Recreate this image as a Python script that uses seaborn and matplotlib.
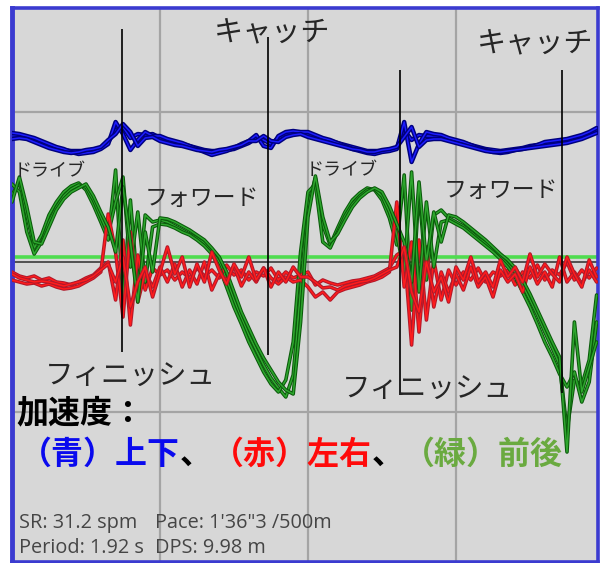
import matplotlib
matplotlib.use("Agg")
import numpy as np
import pandas as pd
import matplotlib.pyplot as plt
import matplotlib.patheffects as pe
import seaborn as sns

# Overlaid rowing strokes, accelerometer counts (150 counts per grid division),
# one sample every 0.048 s; two stroke cycles of 40 samples each.
vertical_a = [126, 127, 125, 122, 119, 116, 114, 112, 111, 111,
              111, 112, 114, 120, 132, 135, 124, 128, 127, 128,
              124, 122, 120, 118, 116, 114, 112, 111, 111, 112,
              113, 116, 119, 124, 122, 118, 124, 128, 129, 129,
              127, 125, 123, 121, 119, 117, 115, 113, 111, 111,
              111, 112, 114, 132, 122, 127, 126, 126, 125, 123,
              121, 119, 117, 115, 113, 112, 111, 112, 113, 114,
              116, 117, 118, 119, 120, 121, 123, 125, 128, 131]
vertical_b = [129, 128, 126, 124, 121, 118, 115, 113, 110, 108,
              109, 110, 113, 118, 140, 128, 112, 122, 130, 126,
              126, 123, 121, 119, 116, 113, 110, 107, 109, 111,
              114, 118, 121, 127, 116, 114, 126, 130, 131, 130,
              130, 127, 124, 122, 119, 116, 113, 111, 109, 108,
              110, 111, 113, 140, 100, 118, 130, 128, 127, 124,
              122, 120, 117, 114, 112, 110, 109, 110, 112, 113,
              115, 117, 120, 121, 122, 123, 125, 127, 130, 134]
vertical_c = [123, 124, 123, 120, 117, 114, 112, 110, 109, 110,
              112, 113, 115, 122, 128, 138, 130, 116, 124, 125,
              121, 119, 117, 116, 114, 112, 111, 110, 112, 113,
              115, 117, 121, 121, 126, 121, 120, 125, 127, 128,
              125, 123, 121, 119, 117, 115, 113, 112, 110, 110,
              112, 113, 115, 125, 135, 115, 122, 123, 123, 121,
              119, 117, 115, 113, 111, 110, 110, 111, 112, 113,
              114, 115, 116, 117, 118, 119, 121, 123, 126, 129]

surge_a = [67, 80, 47, 14, 27, 47, 60, 70, 76, 79,
           72, 57, 40, 22, 92, -38, 62, -28, 47, 40,
           42, 40, 36, 32, 28, 24, 19, 10, 0, -18,
           -38, -56, -73, -88, -103, -116, -126, -135, -113, -28,
           57, 84, 37, 17, 34, 50, 62, 69, 74, 72,
           62, 44, 17, 87, -48, 72, -18, 47, 52, 44,
           40, 36, 30, 24, 19, 12, 6, -2, -10, -23,
           -38, -53, -70, -86, -103, -168, -118, -123, -98, -33]
surge_b = [78, 70, 30, 8, 20, 40, 55, 66, 73, 77,
           75, 62, 45, 28, 60, 85, -5, 50, -20, 35,
           38, 37, 34, 30, 27, 22, 16, 8, -5, -25,
           -45, -62, -80, -95, -110, -122, -130, -118, -80, 10,
           70, 78, 20, 14, 30, 46, 58, 66, 72, 73,
           66, 50, 28, -10, 90, -30, 60, -5, 40, 42,
           38, 34, 28, 22, 16, 10, 3, -5, -15, -30,
           -45, -62, -80, -95, -112, -125, -110, -140, -120, -60]
surge_c = [60, 85, 55, 20, 18, 35, 52, 63, 70, 74,
           78, 66, 50, 35, 10, 75, 20, -40, 30, -10,
           44, 43, 40, 36, 32, 27, 22, 14, 5, -10,
           -30, -50, -66, -82, -96, -108, -120, -128, -132, -60,
           45, 86, 45, 20, 28, 42, 55, 64, 70, 74,
           70, 56, 38, 20, -20, 80, 0, 50, 20, 47,
           45, 40, 34, 28, 22, 15, 8, 2, -6, -18,
           -32, -48, -64, -80, -95, -190, -60, -130, -105, -80]

sway_a = [-10, -14, -16, -14, -18, -16, -20, -21, -23, -20,
          -16, -13, -6, 0, -38, 22, -63, 7, -28, -6,
          -13, -8, -18, -10, -16, -6, -14, -8, -16, -3,
          -13, -8, -18, -10, -14, -6, -18, -10, -16, -13,
          -10, -23, -18, -21, -23, -21, -19, -18, -16, -14,
          -10, -6, 7, 12, -83, 22, -58, 2, -38, -8,
          -23, -10, -18, -6, -20, -10, -14, -8, -23, -10,
          -16, -3, -18, -8, -13, 0, -18, -8, -16, -6]
sway_b = [-18, -20, -22, -21, -24, -22, -25, -27, -26, -24,
          -20, -16, -10, 48, 10, -55, 30, -40, -10, -25,
          -5, -20, -2, -25, -8, -22, 0, -28, -12, -18,
          -4, -24, -10, -20, -6, -16, -22, -15, -20, -18,
          -25, -35, -30, -38, -30, -27, -25, -23, -20, -18,
          -15, -10, 60, -25, 20, -70, 15, -45, -10, -30,
          -12, -28, -5, -25, -15, -35, -8, -20, -12, -30,
          -5, -22, -10, -25, 5, -20, -10, -22, -8, -20]
sway_c = [-12, -16, -18, -20, -19, -20, -22, -24, -22, -20,
          -18, -14, -8, -2, -20, 5, -45, -20, -5, -35,
          -10, 15, -12, 5, -25, -2, -20, 10, -8, -22,
          -2, -15, 5, -18, -6, -25, -10, -20, -5, -15,
          -15, -20, -26, -25, -28, -24, -22, -20, -19, -16,
          -12, -8, -5, 15, -30, -50, 0, -30, -15, -40,
          -5, -18, 5, -20, -10, -25, 2, -15, -5, -20,
          8, -15, -2, -12, -20, 5, -12, -25, 2, -15]

# Stroke events: (sample position, lower end, upper end of the marker)
finish_marks = [(14.9, -90, 233), (52.4, -133, 192)]
catch_marks = [(34.6, -93, 225), (74.3, -131, 192)]

stats_left = ["SR: 31.2 spm", "Period: 1.92 s"]
stats_right = ["Pace: 1'36\"3 /500m", "DPS: 9.98 m"]

W, H = 600, 563
sns.set_style("white")
plt.rcParams["font.family"] = ["Noto Sans CJK JP", "DejaVu Sans"]

fig = plt.figure(figsize=(W / 100, H / 100), dpi=100)
fig.patch.set_facecolor("white")
ax = fig.add_axes([12 / W, 1 - 562 / H, 586 / W, 554 / H])
ax.set_facecolor("#d7d7d7")
ax.set_xlim(0, 79.19)
ax.set_ylim(-300, 254)

# grid divisions
ax.set_xticks([20, 40, 60])
ax.set_yticks([150, -150])
ax.grid(True, color="#a4a4a4", linewidth=1.6)
ax.tick_params(length=0, labelbottom=False, labelleft=False)
for sp in ax.spines.values():
    sp.set_color("#3b3bd0")
    sp.set_linewidth(2.6)
ax.spines["left"].set_linewidth(3.5)

# reference lines
ax.axhline(5, color="#4fdc4f", linewidth=2.6, zorder=2)
ax.axhline(0, color="#3a3a3a", linewidth=1.2, zorder=2)

series = {
    "surge": ([surge_a, surge_b, surge_c], "#2ea62e", "#0a5a0a", 2.6),
    "sway": ([sway_a, sway_b, sway_c], "#ff1c1c", "#b0182a", 2.6),
    "vertical": ([vertical_a, vertical_b, vertical_c], "#1d1dff", "#00007e", 3.2),
}
rows = []
for name, (traces, _, _, _) in series.items():
    for k, tr in enumerate(traces):
        for i, v in enumerate(tr):
            rows.append({"axis": name, "stroke": k, "sample": i, "acc": v})
df = pd.DataFrame(rows)

for k in range(3):
    for name in ["surge", "sway", "vertical"]:
        _, inner, outer, w = series[name]
        sub = df[(df["axis"] == name) & (df["stroke"] == k)]
        sns.lineplot(data=sub, x="sample", y="acc", ax=ax, color=inner,
                     linewidth=1.1, estimator=None, sort=False, zorder=3,
                     path_effects=[pe.Stroke(linewidth=w, foreground=outer),
                                   pe.Normal()])

for x, lo, hi in finish_marks + catch_marks:
    ax.vlines(x, lo, hi, color="black", linewidth=1.2, zorder=5)

ax.set_xlabel("")
ax.set_ylabel("")


def fpos(x, y):
    return x / W, 1 - y / H


def label(x, y, s, size, **kw):
    fig.text(*fpos(x, y), s, fontsize=size, ha="left", va="center",
             zorder=6, **kw)


label(214, 32, "キャッチ", 21)
label(477, 43, "キャッチ", 21)
label(14, 171, "ドライブ", 13)
label(306, 170, "ドライブ", 13)
label(145, 198, "フォワード", 16.5)
label(444, 190, "フォワード", 16.5)
label(45, 377, "フィニッシュ", 20.5)
label(342, 390, "フィニッシュ", 20.5)
label(16, 413, "加速度：", 23, fontweight="bold", color="black")

# colour legend line: full-width characters, each part shifted by whole ems
legend_size = 23
em_px = legend_size * 100 / 72
legend_parts = [("（青）上下", "#0a0aee"), ("、", "black"),
                ("（赤）左右", "#ff0a0a"), ("、", "black"),
                ("（緑）前後", "#6aaa40")]
pos = 0
for part, col in legend_parts:
    label(20 + pos * em_px, 455, part, legend_size, fontweight="bold",
          color=col)
    pos += len(part)

for i, (l, r) in enumerate(zip(stats_left, stats_right)):
    y = 523 + 25 * i
    fig.text(*fpos(19, y), l, fontsize=14.3, ha="left", va="center",
             color="#454545", family=["Open Sans", "DejaVu Sans"])
    fig.text(*fpos(155, y), r, fontsize=14.3, ha="left", va="center",
             color="#454545", family=["Open Sans", "DejaVu Sans"])

fig.savefig("out.png", dpi=100, facecolor="white")
